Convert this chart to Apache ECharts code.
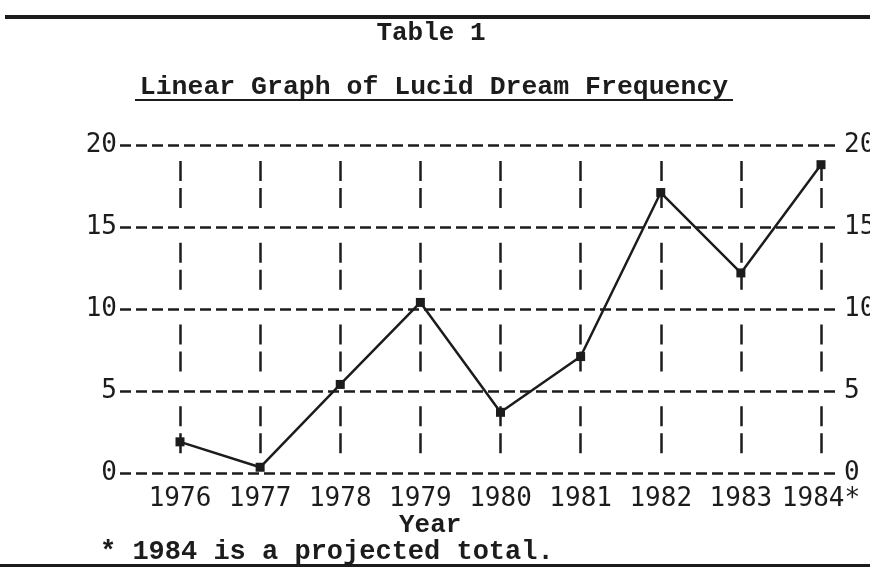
<!DOCTYPE html>
<html>
<head>
<meta charset="utf-8">
<script src="https://cdn.jsdelivr.net/npm/echarts@6/dist/echarts.min.js"></script>
<style>
  html, body { margin: 0; padding: 0; background: #fff; }
  #chart { width: 870px; height: 568px; }
</style>
</head>
<body>
<div id="chart"></div>
<script>
var years = ['1976', '1977', '1978', '1979', '1980', '1981', '1982', '1983', '1984'];
var frequency = [1.9, 0.35, 5.4, 10.4, 3.7, 7.1, 17.1, 12.2, 18.8];
var yTicks = [0, 5, 10, 15, 20];
var projectedYear = '1984';

var ink = '#1c1c1c';
var typeFont = '"Liberation Mono", "DejaVu Sans Mono", monospace';
var labelFont = '"DejaVu Sans Mono", monospace';

var chart = echarts.init(document.getElementById('chart'));

var option = {
  backgroundColor: '#fff',
  animation: false,
  title: [
    {
      text: 'Table 1',
      left: 431, top: 20, textAlign: 'center', padding: 0,
      textStyle: { fontFamily: typeFont, fontSize: 26, fontWeight: 'bold', color: ink }
    },
    {
      text: 'Linear Graph of Lucid Dream Frequency',
      left: 434, top: 74, textAlign: 'center', padding: 0,
      textStyle: { fontFamily: typeFont, fontSize: 26.5, fontWeight: 'bold', color: ink }
    }
  ],
  grid: [
    // horizontal rules + value labels (right labels run off the page like the scan)
    { left: 120, right: 32, top: 145, bottom: 95, outerBoundsMode: 'none' },
    // years + line
    { left: 180, right: 49, top: 145, bottom: 95, outerBoundsMode: 'none' }
  ],
  xAxis: [
    {
      gridIndex: 0, type: 'value', min: 0, max: 1, show: false
    },
    {
      gridIndex: 1, type: 'category', data: years, boundaryGap: false,
      axisLine: { show: false },
      axisTick: { show: false },
      axisLabel: {
        interval: 0, margin: 13,
        fontFamily: labelFont, fontSize: 26, color: ink,
        formatter: function (v) { return v === projectedYear ? v + '*' : v; }
      },
      splitLine: {
        show: true, interval: 0,
        lineStyle: { color: ink, width: 2.5, type: [20, 7, 20, 34.75], dashOffset: 65.75 }
      }
    }
  ],
  yAxis: [
    {
      gridIndex: 0, type: 'value', min: 0, max: 20, interval: 5, position: 'left',
      axisLine: { show: false }, axisTick: { show: false },
      axisLabel: {
        margin: 3, fontFamily: labelFont, fontSize: 26, color: ink,
        formatter: function (v) { return yTicks.indexOf(v) >= 0 ? String(v) : ''; }
      },
      splitLine: { show: true, lineStyle: { color: ink, width: 2.5, type: [11, 5] } }
    },
    {
      gridIndex: 0, type: 'value', min: 0, max: 20, interval: 5, position: 'right',
      axisLine: { show: false }, axisTick: { show: false },
      axisLabel: {
        margin: 6, fontFamily: labelFont, fontSize: 26, color: ink,
        formatter: function (v) { return yTicks.indexOf(v) >= 0 ? String(v) : ''; }
      },
      splitLine: { show: false }
    },
    {
      gridIndex: 1, type: 'value', min: 0, max: 20, interval: 5, show: false
    }
  ],
  series: [
    {
      type: 'line',
      xAxisIndex: 1,
      yAxisIndex: 2,
      data: frequency,
      symbol: 'rect',
      symbolSize: 9,
      lineStyle: { color: ink, width: 2.5 },
      itemStyle: { color: ink }
    }
  ],
  graphic: [
    // top and bottom rules of the page
    { type: 'rect', shape: { x: 5, y: 15, width: 865, height: 4 }, style: { fill: ink } },
    { type: 'rect', shape: { x: 0, y: 564, width: 870, height: 3 }, style: { fill: ink } },
    // title underline
    { type: 'rect', shape: { x: 135, y: 99, width: 598, height: 2 }, style: { fill: ink } },
    {
      type: 'text', left: 399, top: 512,
      style: { text: 'Year', font: 'bold 26px ' + typeFont, fill: ink }
    },
    {
      type: 'text', left: 100, top: 539,
      style: { text: '* 1984 is a projected total.', font: 'bold 27px ' + typeFont, fill: ink }
    }
  ]
};

chart.setOption(option);
</script>
</body>
</html>
